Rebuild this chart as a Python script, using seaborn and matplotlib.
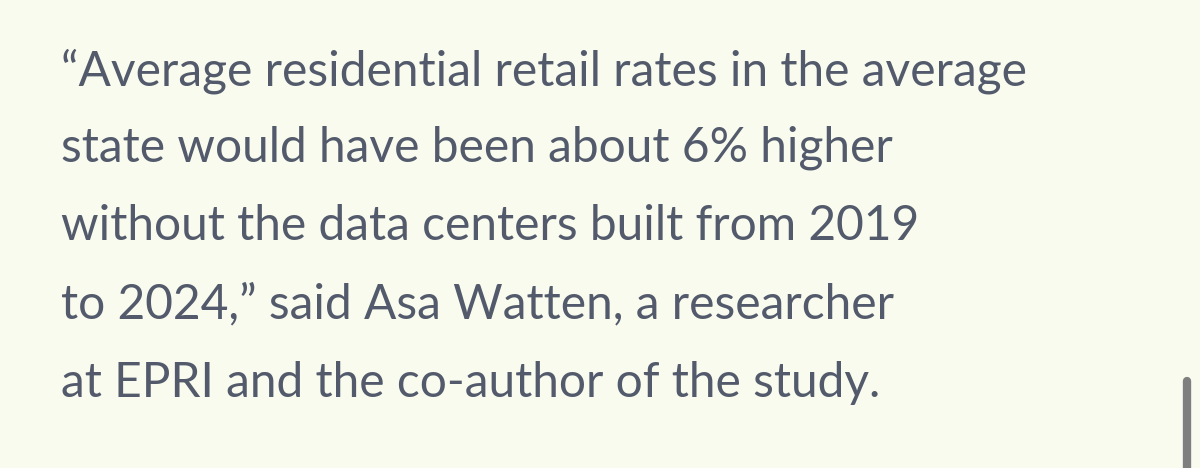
import matplotlib
matplotlib.use("Agg")
import matplotlib.pyplot as plt
import seaborn as sns

# quote text, one entry per displayed line
quote_lines = [
    "\u201cAverage residential retail rates in the average",
    "state would have been about 6% higher",
    "without the data centers built from 2019",
    "to 2024,\u201d said Asa Watten, a researcher",
    "at EPRI and the co-author of the study.",
]
baselines = [85, 162, 240, 318, 397]

bg = "#f9fbee"
ink = "#525a6b"

sns.set_theme(style="white", rc={"axes.facecolor": bg, "figure.facecolor": bg})
plt.rcParams['font.family'] = ['Lato', 'DejaVu Sans']

fig = plt.figure(figsize=(12, 4.68), dpi=100)
ax = fig.add_axes([0, 0, 1, 1])
ax.set_xlim(0, 1200)
ax.set_ylim(468, 0)
ax.axis("off")

for line, y in zip(quote_lines, baselines):
    ax.text(61, y, line, fontsize=34.5, color=ink, va="baseline", ha="left")

# scrollbar on the right
ax.plot([1187, 1187], [381, 480], color="#7f7f7f", lw=6, solid_capstyle="round")

fig.savefig("out.png", dpi=100, facecolor=bg)
